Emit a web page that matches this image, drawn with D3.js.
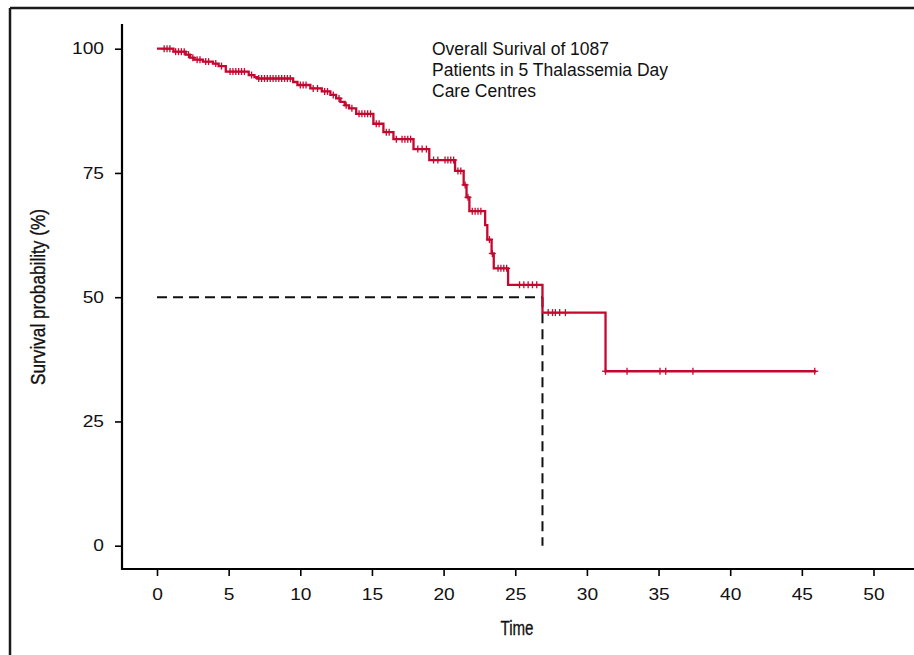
<!DOCTYPE html>
<html><head><meta charset="utf-8">
<script src="https://cdn.jsdelivr.net/npm/d3@7"></script>
<style>
html,body{margin:0;padding:0;background:#fff;}
svg{display:block;}
</style></head>
<body>
<svg id="chart" width="914" height="655"></svg>
<script>
// Kaplan–Meier step data: event times and survival (%) after each event
const stepTimes = [0, 1.15, 2.0, 2.3, 2.6, 3.2, 3.9, 4.3, 4.8, 6.4, 6.8, 7.0, 9.5, 9.8, 10.7, 11.5, 12.1, 12.5, 12.8, 13.1, 13.4, 13.9, 15.1, 15.8, 16.5, 17.9, 19.0, 20.8, 21.4, 21.6, 21.8, 22.9, 23.05, 23.35, 23.5, 24.5, 26.9, 31.3];
const stepSurv  = [100, 99.4, 98.8, 98.2, 97.8, 97.4, 97.0, 96.5, 95.4, 94.7, 94.3, 94.0, 93.3, 92.7, 92.0, 91.4, 90.7, 90.0, 89.3, 88.6, 88.0, 86.9, 84.9, 83.2, 81.8, 79.8, 77.6, 75.4, 72.6, 70.1, 67.3, 64.5, 61.6, 58.8, 55.8, 52.5, 46.9, 35.1];
const lastTime = 46.0;
// censoring times (+ marks)
const censorTimes = [0.5, 0.7, 0.9, 1.3, 1.5, 1.7, 1.9, 2.2, 2.5, 2.8, 3.0, 3.4, 3.6, 4.1, 4.5, 5.1, 5.3, 5.5, 5.7, 5.9, 6.1, 6.6, 7.1, 7.3, 7.5, 7.7, 7.9, 8.1, 8.3, 8.5, 8.7, 8.9, 9.1, 9.3, 10.0, 10.2, 10.4, 10.9, 11.2, 11.7, 11.9, 12.3, 12.7, 13.2, 13.6, 14.1, 14.3, 14.5, 14.7, 14.9, 15.3, 15.5, 16.0, 16.2, 16.7, 17.1, 17.3, 17.5, 17.7, 18.2, 18.5, 18.8, 19.3, 19.6, 20.1, 20.3, 20.5, 20.7, 21.0, 21.2, 21.5, 21.7, 22.0, 22.2, 22.4, 22.6, 23.2, 23.4, 23.8, 24.0, 24.2, 24.4, 25.3, 25.6, 25.9, 26.2, 26.5, 27.3, 27.6, 27.8, 28.1, 28.5, 31.3, 32.8, 35.1, 35.5, 37.4, 45.9];
const medianTime = 26.9;
const medianSurv = 50;
const xTicks = [0, 5, 10, 15, 20, 25, 30, 35, 40, 45, 50];
const yTicks = [0, 25, 50, 75, 100];
const annotation = ["Overall Surival of 1087", "Patients in 5 Thalassemia Day", "Care Centres"];
const xTitle = "Time";
const yTitle = "Survival probability (%)";

const svg = d3.select("#chart");
const red = "#c4082f";

const x = d3.scaleLinear().domain([0, 50]).range([157, 873.5]);
const y = d3.scaleLinear().domain([0, 100]).range([545.7, 48.7]);

// outer frame (top & left)
svg.append("line").attr("x1", 10).attr("x2", 914).attr("y1", 8).attr("y2", 8)
  .attr("stroke", "#1a1a1a").attr("stroke-width", 2.5);
svg.append("line").attr("x1", 10).attr("x2", 10).attr("y1", 8).attr("y2", 655)
  .attr("stroke", "#1a1a1a").attr("stroke-width", 2.5);

// axes
const tickFont = "'Liberation Sans', Arial, sans-serif";
const xAxis = d3.axisBottom(x).tickValues(xTicks).tickSize(7).tickPadding(13).tickSizeOuter(0);
const gx = svg.append("g").attr("transform", "translate(0,569)").call(xAxis);
gx.select(".domain").remove();
gx.append("line").attr("x1", 122).attr("x2", 914).attr("y1", 0).attr("y2", 0)
  .attr("stroke", "#000").attr("stroke-width", 2.2);
gx.selectAll(".tick line").attr("stroke", "#000").attr("stroke-width", 1.6);
gx.selectAll(".tick text").attr("fill", "#111").style("font-family", tickFont).style("font-size", "16px")
  .attr("transform", "scale(1.2,1)");

const yAxis = d3.axisLeft(y).tickValues(yTicks).tickSize(7).tickPadding(9).tickSizeOuter(0);
const gy = svg.append("g").attr("transform", "translate(122,0)").call(yAxis);
gy.select(".domain").remove();
gy.append("line").attr("x1", 0).attr("x2", 0).attr("y1", 24).attr("y2", 570)
  .attr("stroke", "#000").attr("stroke-width", 2.2);
gy.selectAll(".tick line").attr("stroke", "#000").attr("stroke-width", 1.6);
gy.selectAll(".tick text").attr("fill", "#111").style("font-family", tickFont).style("font-size", "16px")
  .each(function(){
    const t = d3.select(this);
    const xx = +t.attr("x");
    t.attr("transform", "translate(" + (xx - 2) + ",0) scale(1.2,1)").attr("x", 0);
  });

// axis titles (condensed look)
const titleFont = "'Liberation Sans', Arial, sans-serif";
svg.append("text").attr("transform", "translate(517,635) scale(0.72,1)").attr("text-anchor", "middle")
  .style("font-family", titleFont).style("font-size", "21px")
  .attr("fill", "#111").attr("stroke", "#111").attr("stroke-width", 0.35).text(xTitle);
svg.append("text").attr("transform", "translate(45,297) rotate(-90) scale(0.82,1)").attr("text-anchor", "middle")
  .style("font-family", titleFont).style("font-size", "21px")
  .attr("fill", "#111").attr("stroke", "#111").attr("stroke-width", 0.35).text(yTitle);

// median dashed lines
svg.append("line").attr("x1", x(0)).attr("x2", x(medianTime)).attr("y1", y(medianSurv)).attr("y2", y(medianSurv))
  .attr("stroke", "#111").attr("stroke-width", 2).attr("stroke-dasharray", "10,6");
svg.append("line").attr("x1", x(medianTime)).attr("x2", x(medianTime)).attr("y1", y(medianSurv)).attr("y2", y(0))
  .attr("stroke", "#111").attr("stroke-width", 2).attr("stroke-dasharray", "10,6");

// KM step curve
const pts = stepTimes.map((t, i) => [t, stepSurv[i]]);
pts.push([lastTime, stepSurv[stepSurv.length - 1]]);
const line = d3.line().x(d => x(d[0])).y(d => y(d[1])).curve(d3.curveStepAfter);
svg.append("path").datum(pts).attr("d", line).attr("fill", "none")
  .attr("stroke", red).attr("stroke-width", 2.3);

// censor marks
function survAt(t) {
  let s = stepSurv[0];
  for (let i = 0; i < stepTimes.length; i++) { if (stepTimes[i] <= t) s = stepSurv[i]; }
  return s;
}
const cg = svg.append("g");
censorTimes.forEach(t => {
  const cx = x(t), cy = y(survAt(t));
  cg.append("line").attr("x1", cx).attr("x2", cx).attr("y1", cy - 3.5).attr("y2", cy + 3.5)
    .attr("stroke", red).attr("stroke-width", 1.3);
  cg.append("line").attr("x1", cx - 3.5).attr("x2", cx + 3.5).attr("y1", cy).attr("y2", cy)
    .attr("stroke", red).attr("stroke-width", 1.3);
});

// annotation
const ann = svg.append("text")
  .style("font-family", "'Liberation Sans', Arial, sans-serif").style("font-size", "17.5px").attr("fill", "#111");
annotation.forEach((s, i) => {
  ann.append("tspan").attr("x", 432).attr("y", 55 + i * 21).text(s);
});
</script>
</body></html>
